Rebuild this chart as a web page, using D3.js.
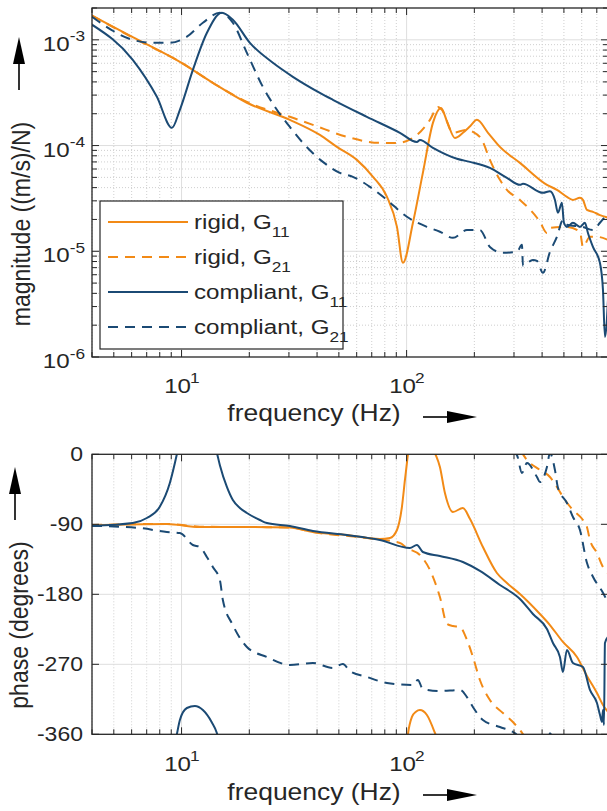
<!DOCTYPE html>
<html>
<head>
<meta charset="utf-8">
<script src="https://cdn.jsdelivr.net/npm/d3@7"></script>
<style>
  html, body { margin: 0; padding: 0; background: #fff; }
  svg { display: block; }
  text { font-family: "Liberation Sans", Arial, Helvetica, sans-serif; fill: #262626; }
</style>
</head>
<body>
<svg id="chart" width="607" height="811"></svg>
<script>
// ---------------- data ----------------
// frequency responses: frequency (Hz) and magnitude ((m/s)/N)
const rigidG11MagFreq = [4.0, 6.07, 10.0, 13.77, 19.51, 30.29, 41.18, 49.0, 60.1, 70.9, 81.8, 90.6, 96.3, 106.7, 118.1, 130.9, 142.1, 152, 163.9, 177.9, 192, 205.3, 230, 259.8, 318.9, 420.3, 465.6, 515.7, 548.4, 589.1, 607.5, 632.8, 673.0, 722.9, 785];
const rigidG11Mag = [1.69e-3, 1.06e-3, 6.06e-4, 3.92e-4, 2.54e-4, 1.75e-4, 1.26e-4, 9.72e-5, 7.32e-5, 5.06e-5, 3.27e-5, 1.70e-5, 7.77e-6, 1.86e-5, 5.51e-5, 1.64e-4, 2.27e-4, 1.64e-4, 1.18e-4, 1.32e-4, 1.53e-4, 1.75e-4, 1.32e-4, 9.72e-5, 6.86e-5, 4.25e-5, 3.81e-5, 3.27e-5, 3.06e-5, 3.2e-5, 3.06e-5, 2.46e-5, 2.36e-5, 2.2e-5, 2.08e-5];

const rigidG21MagFreq = [4.0, 6.07, 10.0, 13.77, 19.51, 30.29, 38.33, 54.3, 76.1, 90.6, 106.7, 127.0, 137.8, 143.5, 160.6, 185.4, 197.1, 216.1, 234.5, 259.8, 279.1, 318.9, 391.3, 420.3, 433.4, 515.7, 589.1, 607.5, 652.6, 701.2, 785];
const rigidG21Mag = [1.69e-3, 1.05e-3, 6.06e-4, 3.92e-4, 2.59e-4, 1.87e-4, 1.57e-4, 1.21e-4, 1.06e-4, 1.06e-4, 1.18e-4, 1.75e-4, 2.32e-4, 2.18e-4, 1.32e-4, 1.41e-4, 1.35e-4, 1.13e-4, 7.32e-5, 4.74e-5, 3.81e-5, 3.06e-5, 1.90e-5, 1.49e-5, 1.66e-5, 1.70e-5, 1.53e-5, 1.10e-5, 1.37e-5, 1.37e-5, 1.28e-5];

const compliantG11MagFreq = [4.0, 6.07, 7.77, 9.06, 9.83, 11.23, 12.95, 15.11, 16.90, 20.12, 25.46, 31.24, 41.18, 47.03, 66.6, 93.4, 111.1, 114.6, 130.9, 167.3, 191.1, 234.5, 279.1, 318.9, 328.8, 403.5, 433.4, 456.2, 470.4, 490.0, 500, 515.7, 548.4, 589.1, 620.0, 639.3, 673.0, 722.9, 745.6, 760.9, 785];
const compliantG11Mag = [1.39e-3, 6.47e-4, 2.89e-4, 1.47e-4, 2.18e-4, 5.20e-4, 1.16e-3, 1.80e-3, 1.55e-3, 9.37e-4, 6.06e-4, 4.47e-4, 3.15e-4, 2.71e-4, 1.87e-4, 1.32e-4, 1.08e-4, 1.13e-4, 9.51e-5, 7.5e-5, 7.01e-5, 6.15e-5, 4.95e-5, 4.25e-5, 4.35e-5, 3.57e-5, 3.7e-5, 3.06e-5, 2.31e-5, 2.87e-5, 1.86e-5, 1.70e-5, 1.86e-5, 1.70e-5, 1.86e-5, 1.49e-5, 1.10e-5, 7.77e-6, 4.31e-6, 1.55e-6, 3.5e-6];

const compliantG21MagFreq = [4.0, 6.07, 7.23, 8.87, 10.56, 12.44, 14.80, 16.90, 19.51, 22.98, 26.52, 30.29, 34.61, 42.46, 50.52, 57.7, 68.7, 81.8, 100.3, 123.1, 140.6, 160.6, 185.4, 211.7, 234.5, 267.9, 309.2, 325.5, 328.8, 364.2, 379.5, 403.5, 433.4, 465.6, 495.1, 515.7, 607.5, 673.0, 722.9, 785];
const compliantG21Mag = [1.65e-3, 1.0e-3, 9.4e-4, 9.37e-4, 1.07e-3, 1.45e-3, 1.80e-3, 1.45e-3, 7.53e-4, 3.59e-4, 2.18e-4, 1.50e-4, 1.06e-4, 7.01e-5, 5.51e-5, 5.06e-5, 4.07e-5, 3.06e-5, 2.12e-5, 1.70e-5, 1.53e-5, 1.34e-5, 1.59e-5, 1.59e-5, 1.10e-5, 9.66e-6, 9.87e-6, 1.15e-5, 7.3e-6, 8.29e-6, 8.1e-6, 6.25e-6, 9.87e-6, 1.37e-5, 1.98e-5, 1.78e-5, 1.70e-5, 1.59e-5, 1.86e-5, 2.31e-5];

// phase (degrees, unwrapped; drawn wrapped into [-360, 0])
const rigidG11PhaseFreq = [4.0, 8.6, 12.06, 19.51, 30.29, 38.33, 54.3, 76.1, 84.3, 90.6, 95.3, 98.3, 100.3, 101.5, 105.6, 110, 114.6, 123.1, 133.6, 140.6, 148.0, 160.6, 177.9, 191.1, 218.3, 251.9, 279.1, 318.9, 391.3, 433.4, 495.1, 571.3, 632.8, 701.2, 745.6, 785];
const rigidG11Phase = [-91, -89.5, -93.5, -93.5, -94, -99.9, -103.8, -108.9, -107.6, -97.3, -67.8, -33, -11.2, 1, 22.3, 29, 31.2, 24.8, 1.7, -16.3, -49.8, -74.2, -69.0, -83, -119.2, -152.6, -165.5, -179.6, -205.3, -219.5, -241.3, -260.6, -285, -306.9, -322.3, -331.3];

const rigidG21PhaseFreq = [4.0, 8.6, 12.06, 30.29, 38.33, 66.6, 93.4, 100.3, 114.6, 127.0, 140.6, 151.1, 160.6, 172.6, 185.4, 197.1, 211.7, 234.5, 267.9, 296.8, 318.9, 342.6, 391.3, 433.4, 465.6, 495.1, 548.4, 607.5, 632.8, 652.6, 701.2, 745.6, 785];
const rigidG21Phase = [-91, -89.5, -93, -94, -100, -107.6, -114, -120.5, -129.5, -148.8, -183.5, -218, -220.7, -222, -238.7, -260.6, -290.2, -315.9, -332.6, -344.2, -354.5, -367.3, -380.2, -389.2, -402, -414.9, -431.6, -444.5, -453.5, -470.2, -486.9, -504.9, -512.6];

const compliantG11PhaseFreq = [4.0, 6.07, 7.01, 7.99, 8.87, 9.34, 9.53, 9.83, 10.56, 11.46, 12.44, 13.6, 14.35, 14.8, 15.9, 16.9, 18.16, 19.51, 22.28, 23.94, 30.29, 38.33, 54.3, 76.1, 103.4, 111.1, 118.1, 140.6, 177.9, 211.7, 259.8, 318.9, 364.2, 420.3, 447.0, 480.1, 495.1, 515.7, 548.4, 607.5, 652.6, 701.2, 722.9, 737.9, 745.6, 753.2, 760.9, 785];
const compliantG11Phase = [-92, -88.4, -81.9, -67.8, -36.9, -11.2, 0, 18.4, 33.8, 36.4, 31.2, 15.8, 1.7, -14, -42, -58.8, -69, -75.5, -84.5, -88.4, -92.2, -98.6, -103.8, -110.2, -120.5, -116.6, -125.6, -130.8, -138.5, -150, -168, -186, -205.3, -224.6, -242.6, -260.6, -279.9, -251.6, -268.3, -273.4, -303, -319.8, -335, -344.2, -328.8, -348.1, -242.6, -234.9];

const compliantG21PhaseFreq = [4.0, 6.53, 8.6, 9.83, 11.23, 12.06, 12.95, 13.77, 14.80, 15.26, 16.90, 19.51, 23.94, 30.29, 38.33, 47.03, 52.1, 55.98, 66.6, 81.8, 106.7, 112.2, 118.1, 140.6, 172.6, 185.4, 197.1, 218.3, 259.8, 296.8, 309.2, 325.5, 342.6, 379.5, 391.3, 420.3, 433.4, 456.2, 470.4, 515.7, 548.4, 589.1, 632.8, 673.0, 745.6, 785];
const compliantG21Phase = [-92, -94.8, -99.9, -101.2, -116.6, -119.2, -132, -144.9, -161.6, -187.3, -219.5, -247.7, -260.6, -270.9, -268.3, -274.7, -269.6, -278.6, -286.3, -294.0, -296.6, -290.2, -301.7, -304.3, -303, -312.1, -324.9, -341.6, -350.6, -357.1, -361, -384, -371.2, -389.2, -395.6, -376.3, -358.5, -380.2, -403, -422.6, -440.6, -457.3, -499.5, -517.4, -538.1, -550.9];

// axes
const freqDomain = [4, 785];
const magDomain = [1e-6, 2e-3];
const phaseDomain = [-360, 0];
const freqTickValues = [10, 100];
const freqTickExponents = ["1", "2"];
const magTickValues = [1e-6, 1e-5, 1e-4, 1e-3];
const magTickExponents = ["-6", "-5", "-4", "-3"];
const phaseTickValues = [-360, -270, -180, -90, 0];
const phaseTickLabels = ["-360", "-270", "-180", "-90", "0"];

// legend
const seriesNames = ["rigid", "rigid", "compliant", "compliant"];
const seriesSubscripts = ["11", "21", "11", "21"];

const xLabelText = "frequency (Hz)";
const magLabelText = "magnitude ((m/s)/N)";
const phaseLabelText = "phase (degrees)";

// ---------------- styling / layout ----------------
const ORANGE = "#f28a16";
const BLUE = "#1b4a74";
const AXIS = "#262626";
const SX = 1.15;               // horizontal text stretch
const DASH = "10,7";

const svg = d3.select("#chart");
const plotL = 92, plotR = 608;
const mag = { top: 8, bottom: 357 };
const ph = { top: 454.3, bottom: 734.3 };

const x = d3.scaleLog().domain(freqDomain).range([plotL, plotR]);
const yMag = d3.scaleLog().domain(magDomain).range([mag.bottom, mag.top]);
const yPh = d3.scaleLinear().domain(phaseDomain).range([ph.bottom, ph.top]);

const series = [
  { name: seriesNames[0], sub: seriesSubscripts[0], color: ORANGE, dash: null,
    mf: rigidG11MagFreq, m: rigidG11Mag, pf: rigidG11PhaseFreq, p: rigidG11Phase },
  { name: seriesNames[1], sub: seriesSubscripts[1], color: ORANGE, dash: DASH,
    mf: rigidG21MagFreq, m: rigidG21Mag, pf: rigidG21PhaseFreq, p: rigidG21Phase },
  { name: seriesNames[2], sub: seriesSubscripts[2], color: BLUE, dash: null,
    mf: compliantG11MagFreq, m: compliantG11Mag, pf: compliantG11PhaseFreq, p: compliantG11Phase },
  { name: seriesNames[3], sub: seriesSubscripts[3], color: BLUE, dash: DASH,
    mf: compliantG21MagFreq, m: compliantG21Mag, pf: compliantG21PhaseFreq, p: compliantG21Phase }
];

// text with optional superscript/subscript part, stretched horizontally
function richText(parent, px, py, anchor, size, base, extra, kind, rotate) {
  const g = parent.append("g")
    .attr("transform", `translate(${px},${py}) scale(${SX},1)` + (rotate ? " rotate(-90)" : ""));
  const t = g.append("text").attr("text-anchor", anchor).attr("font-size", size);
  t.append("tspan").text(base);
  if (extra) {
    const small = Math.round(size * 0.72);
    t.append("tspan")
      .attr("font-size", small)
      .attr("dy", kind === "sup" ? -size * 0.45 : size * 0.38)
      .text(extra);
  }
  return t;
}

function arrow(parent, x1, y1, x2, y2, headLen, headW) {
  const a = Math.atan2(y2 - y1, x2 - x1);
  const bx = x2 - headLen * Math.cos(a), by = y2 - headLen * Math.sin(a);
  parent.append("line").attr("x1", x1).attr("y1", y1).attr("x2", bx).attr("y2", by)
    .attr("stroke", "#000").attr("stroke-width", 1.6);
  const nx = -Math.sin(a) * headW / 2, ny = Math.cos(a) * headW / 2;
  parent.append("path")
    .attr("d", `M${x2},${y2}L${bx + nx},${by + ny}L${bx - nx},${by - ny}Z`)
    .attr("fill", "#000");
}

const defs = svg.append("defs");
defs.append("clipPath").attr("id", "clipMag").append("rect")
  .attr("x", plotL).attr("y", mag.top).attr("width", plotR - plotL).attr("height", mag.bottom - mag.top);
defs.append("clipPath").attr("id", "clipPh").append("rect")
  .attr("x", plotL).attr("y", ph.top).attr("width", plotR - plotL).attr("height", ph.bottom - ph.top);

const xTicksAll = x.ticks();
const isDecade = v => Math.abs(Math.log10(v) - Math.round(Math.log10(v))) < 1e-6;

function panel(top, bottom, yScale, yTicksAll, yMajor) {
  const g = svg.append("g");
  // vertical grid
  xTicksAll.forEach(v => {
    const major = isDecade(v);
    g.append("line").attr("x1", x(v)).attr("x2", x(v)).attr("y1", top).attr("y2", bottom)
      .attr("stroke", major ? "#dedede" : "#cfcfcf")
      .attr("stroke-width", 1)
      .attr("stroke-dasharray", major ? null : "1,2");
  });
  // horizontal grid
  yTicksAll.forEach(v => {
    const major = yMajor(v);
    const yy = yScale(v);
    if (yy <= top + 0.5 || yy >= bottom - 0.5) return;
    g.append("line").attr("x1", plotL).attr("x2", plotR).attr("y1", yy).attr("y2", yy)
      .attr("stroke", major ? "#dedede" : "#cfcfcf")
      .attr("stroke-width", 1)
      .attr("stroke-dasharray", major ? null : "1,2");
  });
  return g;
}

function frame(top, bottom, yScale, yTicksAll, yMajor) {
  const g = svg.append("g").attr("stroke", AXIS).attr("stroke-width", 1);
  g.append("rect").attr("x", plotL).attr("y", top).attr("width", plotR - plotL)
    .attr("height", bottom - top).attr("fill", "none").attr("stroke-width", 1.3);
  xTicksAll.forEach(v => {
    const len = isDecade(v) ? 7 : 5;
    g.append("line").attr("x1", x(v)).attr("x2", x(v)).attr("y1", bottom).attr("y2", bottom - len);
    g.append("line").attr("x1", x(v)).attr("x2", x(v)).attr("y1", top).attr("y2", top + len);
  });
  yTicksAll.forEach(v => {
    const len = yMajor(v) ? 7 : 5;
    const yy = yScale(v);
    g.append("line").attr("x1", plotL).attr("x2", plotL + len).attr("y1", yy).attr("y2", yy);
    g.append("line").attr("x1", plotR).attr("x2", plotR - len).attr("y1", yy).attr("y2", yy);
  });
}

// ---------------- magnitude panel ----------------
const magTicksAll = yMag.ticks();
panel(mag.top, mag.bottom, yMag, magTicksAll, isDecade);

const lineMag = d3.line().x(d => x(d[0])).y(d => yMag(d[1])).curve(d3.curveMonotoneX);
const magLines = svg.append("g").attr("clip-path", "url(#clipMag)");
series.forEach(s => {
  magLines.append("path")
    .attr("d", lineMag(s.mf.map((f, i) => [f, s.m[i]])))
    .attr("fill", "none").attr("stroke", s.color).attr("stroke-width", 2)
    .attr("stroke-linejoin", "round")
    .attr("stroke-dasharray", s.dash);
});
frame(mag.top, mag.bottom, yMag, magTicksAll, isDecade);

// legend
const leg = svg.append("g");
leg.append("rect").attr("x", 100).attr("y", 201).attr("width", 243).attr("height", 148)
  .attr("fill", "#fff").attr("stroke", AXIS).attr("stroke-width", 1.2);
series.forEach((s, i) => {
  const cy = 222 + i * 35;
  leg.append("line").attr("x1", 108).attr("x2", 188).attr("y1", cy).attr("y2", cy)
    .attr("stroke", s.color).attr("stroke-width", 2).attr("stroke-dasharray", s.dash);
  richText(leg, 194, cy + 7, "start", 21, `${s.name}, G`, s.sub, "sub");
});

// magnitude tick labels
magTickValues.forEach((v, i) => {
  richText(svg, 85, yMag(v) + 11, "end", 21, "10", magTickExponents[i], "sup");
});
freqTickValues.forEach((v, i) => {
  richText(svg, x(v) - 4, mag.bottom + 36, "middle", 21, "10", "", null);
  richText(svg, x(v) + 8.5, mag.bottom + 26, "start", 15, freqTickExponents[i], "", null);
});
richText(svg, 314, 421, "middle", 23, xLabelText);
arrow(svg, 423, 417, 477, 417, 30, 12);
richText(svg, 30, 224, "middle", 23, magLabelText, "", null, true);
arrow(svg, 19, 90, 19, 37, 27, 12);

// ---------------- phase panel ----------------
const phTicksAll = phaseTickValues;
panel(ph.top, ph.bottom, yPh, phTicksAll, () => true);

const phLines = svg.append("g").attr("clip-path", "url(#clipPh)");
[-360, 0, 360].forEach(off => {
  const linePh = d3.line().x(d => x(d[0])).y(d => yPh(d[1] + off)).curve(d3.curveMonotoneX);
  series.forEach(s => {
    phLines.append("path")
      .attr("d", linePh(s.pf.map((f, i) => [f, s.p[i]])))
      .attr("fill", "none").attr("stroke", s.color).attr("stroke-width", 2)
      .attr("stroke-linejoin", "round")
      .attr("stroke-dasharray", s.dash);
  });
});
frame(ph.top, ph.bottom, yPh, phTicksAll, () => true);

phaseTickValues.forEach((v, i) => {
  richText(svg, 83, yPh(v) + 7, "end", 20, phaseTickLabels[i]);
});
freqTickValues.forEach((v, i) => {
  richText(svg, x(v) - 4, ph.bottom + 37, "middle", 21, "10", "", null);
  richText(svg, x(v) + 8.5, ph.bottom + 27, "start", 15, freqTickExponents[i], "", null);
});
richText(svg, 314, 800, "middle", 23, xLabelText);
arrow(svg, 423, 795, 477, 795, 30, 12);
richText(svg, 28, 625, "middle", 23, phaseLabelText, "", null, true);
arrow(svg, 15, 520, 15, 467, 27, 12);
</script>
</body>
</html>
